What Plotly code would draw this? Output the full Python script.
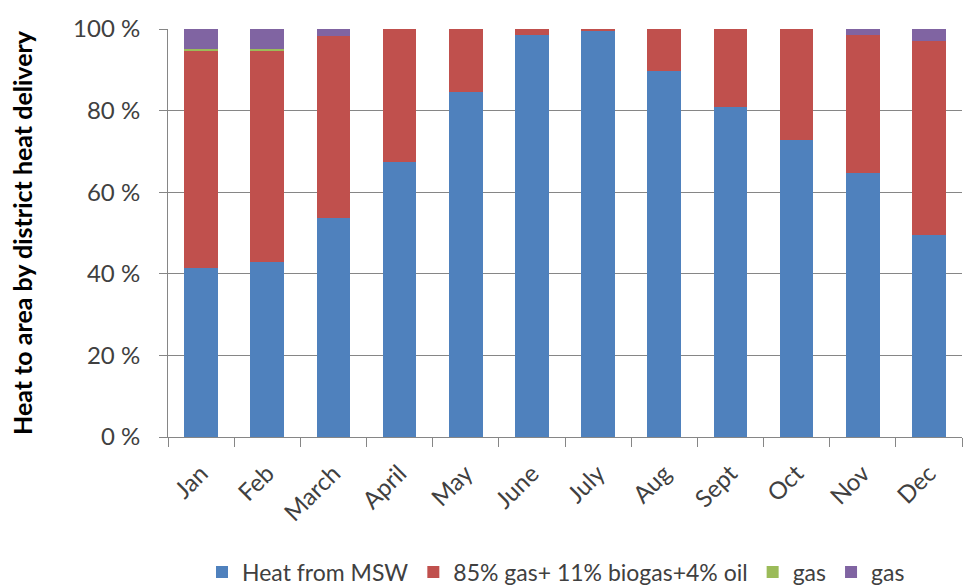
import plotly.graph_objects as go

months = ["Jan", "Feb", "March", "April", "May", "June", "July", "Aug", "Sept", "Oct", "Nov", "Dec"]
heat_msw = [41.4, 42.9, 53.7, 67.4, 84.6, 98.5, 99.5, 89.7, 80.9, 72.8, 64.7, 49.5]
gas_mix = [53.3, 51.6, 44.7, 32.6, 15.4, 1.5, 0.5, 10.3, 19.1, 27.2, 33.8, 47.5]
gas_a = [0.4, 0.5, 0, 0, 0, 0, 0, 0, 0, 0, 0, 0]
gas_b = [4.9, 5.0, 1.6, 0, 0, 0, 0, 0, 0, 0, 1.5, 3.0]

series = [
    ("Heat from MSW", heat_msw, "#4F81BD"),
    ("85% gas+ 11% biogas+4% oil", gas_mix, "#C0504D"),
    ("gas", gas_a, "#9BBB59"),
    ("gas", gas_b, "#8064A2"),
]

FONT = "Lato"

fig = go.Figure()
for name, vals, color in series:
    fig.add_trace(go.Bar(x=months, y=vals, name=name, marker_color=color,
                         marker_line_width=0))

W, H = 964, 585
ml, mr, mt, mb = 168, 2, 29, 148
pw = W - ml - mr
ph = H - mt - mb

fig.update_layout(
    width=W, height=H,
    barmode="stack", bargap=0.49,
    paper_bgcolor="white", plot_bgcolor="white",
    margin=dict(l=ml, r=mr, t=mt, b=mb, autoexpand=False),
    font=dict(family=FONT, color="#404040"),
    showlegend=True,
    legend=dict(orientation="h", x=(556 - ml) / pw, xanchor="center",
                y=(437 - 572) / ph, yanchor="middle",
                font=dict(size=23, color="#404040"), traceorder="normal",
                itemwidth=30),
    xaxis=dict(type="category", showline=True, linecolor="#868686", linewidth=1,
               ticks="outside", tickson="boundaries", ticklen=9, tickcolor="#868686",
               tickangle=-45, tickfont=dict(size=24, color="#404040"),
               ticklabelstandoff=12, showgrid=False, automargin=False),
    yaxis=dict(range=[0, 100], dtick=20, ticksuffix=" %", showline=True,
               linecolor="#868686", linewidth=1, ticks="outside", ticklen=8,
               tickcolor="#868686", gridcolor="#868686", gridwidth=1,
               tickfont=dict(size=24, color="#404040"), ticklabelstandoff=14,
               zeroline=False, automargin=False),
)

fig.add_annotation(text="<b>Heat to area by district heat delivery</b>",
                   xref="paper", yref="paper", x=(22 - ml) / pw, y=0.5,
                   xanchor="center", yanchor="middle", textangle=-90,
                   showarrow=False, font=dict(size=25, color="#000000", family=FONT))

fig.write_html("out.html")
